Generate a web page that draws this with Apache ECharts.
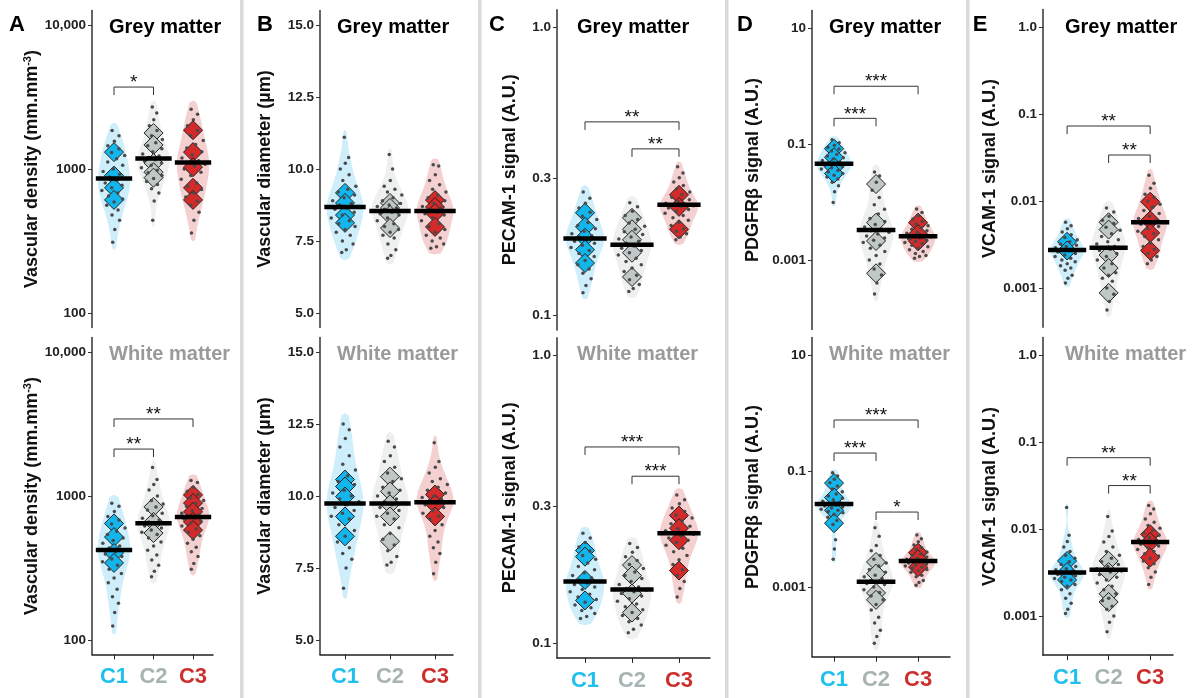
<!DOCTYPE html>
<html>
<head>
<meta charset="utf-8">
<title>Vascular markers by cluster</title>
<script src="https://cdn.jsdelivr.net/npm/echarts@6/dist/echarts.min.js"></script>
<style>
  html, body { margin: 0; padding: 0; background: #fff; }
  #main { width: 1193px; height: 698px; }
</style>
</head>
<body>
<div id="main"></div>
<script>
var clusters = ['C1', 'C2', 'C3'];
var labelColors = ['#1fc0ee', '#a8b3b3', '#cc2e2e'];
var diamondColors = ['#12b5ec', '#bfc8c6', '#d42a2a'];
var violinColors = ['#cdeefa', '#edf0ef', '#f5d0d0'];

// tick labels
var densityTicks = [100, 1000, 10000];
var densityTickLabels = ['100', '1000', '10,000'];
var diameterTicks = [5, 7.5, 10, 12.5, 15];
var diameterTickLabels = ['5.0', '7.5', '10.0', '12.5', '15.0'];
var pecamTicks = [0.1, 0.3, 1];
var pecamTickLabels = ['0.1', '0.3', '1.0'];
var pdgfrbTicks = [0.001, 0.1, 10];
var pdgfrbTickLabels = ['0.001', '0.1', '10'];
var vcamTicks = [0.001, 0.01, 0.1, 1];
var vcamTickLabels = ['0.001', '0.01', '0.1', '1.0'];

// A - vascular density
var densityGreyDots = [
  [1850, 1700, 1560, 1450, 1380, 1300, 1240, 1180, 1120, 1060, 1000, 960, 920, 880, 860, 840, 800, 770, 740, 710, 680, 650, 620, 590, 560, 520, 480, 440, 380, 310],
  [2700, 2450, 2200, 2000, 1850, 1700, 1600, 1520, 1450, 1380, 1320, 1270, 1230, 1200, 1180, 1160, 1130, 1100, 1060, 1020, 980, 940, 900, 860, 820, 780, 730, 680, 600, 440],
  [2600, 2400, 2200, 2000, 1850, 1700, 1580, 1480, 1400, 1320, 1250, 1190, 1140, 1110, 1080, 1050, 1000, 950, 900, 850, 800, 760, 720, 680, 640, 600, 560, 500, 440, 360]
];
var densityGreyDiamonds = [[1310, 900, 740, 610], [1780, 1470, 1100, 950, 870], [1860, 1310, 1030, 740, 610]];
var densityGreyMedians = [859, 1183, 1110];
var densityGreySig = [[1, 2, 3707, '*']];

var densityWhiteDots = [
  [890, 850, 780, 720, 680, 640, 600, 570, 540, 510, 490, 470, 450, 435, 420, 410, 395, 380, 365, 350, 330, 310, 290, 270, 250, 225, 200, 180, 155, 125],
  [1580, 1300, 1200, 1100, 1000, 930, 880, 840, 800, 760, 730, 700, 680, 660, 650, 640, 620, 600, 580, 560, 540, 510, 480, 450, 420, 390, 360, 330, 300, 275],
  [1280, 1240, 1150, 1080, 1020, 970, 930, 890, 850, 820, 790, 760, 740, 725, 715, 705, 690, 670, 650, 620, 590, 560, 530, 500, 470, 440, 410, 380, 340, 310]
];
var densityWhiteDiamonds = [[645, 519, 402, 343], [840, 661, 553], [1017, 893, 776, 661, 580]];
var densityWhiteMedians = [422, 646, 715];
var densityWhiteSig = [[1, 3, 3428, '**'], [1, 2, 2118, '**']];

// B - vascular diameter
var diameterGreyDots = [
  [11.1, 10.4, 10.2, 10.0, 9.8, 9.6, 9.4, 9.3, 9.2, 9.1, 9.0, 8.9, 8.8, 8.75, 8.7, 8.65, 8.6, 8.5, 8.4, 8.3, 8.2, 8.1, 8.0, 7.9, 7.8, 7.7, 7.5, 7.4, 7.2, 7.1],
  [10.5, 10.0, 9.6, 9.4, 9.3, 9.2, 9.1, 9.0, 8.9, 8.8, 8.75, 8.7, 8.65, 8.6, 8.55, 8.5, 8.45, 8.4, 8.3, 8.2, 8.1, 8.0, 7.9, 7.8, 7.7, 7.6, 7.4, 7.2, 7.0, 6.9],
  [10.15, 10.1, 9.8, 9.6, 9.45, 9.3, 9.2, 9.1, 9.0, 8.9, 8.8, 8.7, 8.65, 8.6, 8.55, 8.5, 8.45, 8.4, 8.3, 8.2, 8.1, 8.0, 7.9, 7.8, 7.7, 7.6, 7.5, 7.4, 7.3, 7.25]
];
var diameterGreyDiamonds = [[9.17, 8.82, 8.4, 8.13], [8.82, 8.65, 8.4, 7.95], [8.92, 8.68, 8.47, 7.99]];
var diameterGreyMedians = [8.68, 8.54, 8.54];
var diameterGreySig = [];

var diameterWhiteDots = [
  [12.5, 12.3, 12.0, 11.7, 11.4, 11.1, 10.9, 10.7, 10.5, 10.4, 10.2, 10.1, 10.0, 9.9, 9.8, 9.7, 9.6, 9.5, 9.4, 9.3, 9.2, 9.0, 8.8, 8.6, 8.4, 8.2, 8.0, 7.8, 7.5, 6.8],
  [11.9, 11.7, 11.4, 11.2, 11.0, 10.8, 10.6, 10.5, 10.3, 10.2, 10.1, 10.0, 9.9, 9.8, 9.75, 9.7, 9.6, 9.5, 9.4, 9.3, 9.2, 9.0, 8.9, 8.7, 8.5, 8.3, 8.1, 7.9, 7.7, 7.6],
  [11.85, 11.2, 11.0, 10.8, 10.6, 10.5, 10.4, 10.3, 10.2, 10.1, 10.0, 9.95, 9.9, 9.85, 9.8, 9.75, 9.7, 9.6, 9.5, 9.4, 9.3, 9.2, 9.0, 8.8, 8.6, 8.4, 8.2, 8.0, 7.7, 7.3]
];
var diameterWhiteDiamonds = [[10.57, 10.33, 9.98, 9.29, 8.6], [10.67, 10.16, 9.71, 9.29, 8.43], [10.05, 9.71, 9.29]];
var diameterWhiteMedians = [9.74, 9.74, 9.78];
var diameterWhiteSig = [];

// C - PECAM-1
var pecamGreyDots = [
  [0.268, 0.255, 0.245, 0.236, 0.228, 0.221, 0.215, 0.21, 0.205, 0.2, 0.196, 0.192, 0.189, 0.187, 0.185, 0.183, 0.181, 0.178, 0.175, 0.172, 0.168, 0.164, 0.16, 0.155, 0.15, 0.145, 0.14, 0.134, 0.127, 0.12],
  [0.246, 0.238, 0.23, 0.222, 0.215, 0.209, 0.204, 0.199, 0.195, 0.191, 0.187, 0.184, 0.181, 0.178, 0.176, 0.174, 0.171, 0.168, 0.165, 0.162, 0.158, 0.154, 0.15, 0.146, 0.142, 0.138, 0.133, 0.128, 0.124, 0.121],
  [0.328, 0.312, 0.3, 0.29, 0.282, 0.275, 0.268, 0.262, 0.257, 0.252, 0.248, 0.245, 0.243, 0.241, 0.24, 0.238, 0.236, 0.233, 0.23, 0.226, 0.222, 0.218, 0.214, 0.21, 0.205, 0.2, 0.196, 0.192, 0.187, 0.183]
];
var pecamGreyDiamonds = [[0.227, 0.203, 0.186, 0.169, 0.152], [0.218, 0.199, 0.183, 0.165, 0.136], [0.262, 0.238, 0.199]];
var pecamGreyMedians = [0.185, 0.176, 0.242];
var pecamGreySig = [[1, 3, 0.469, '**'], [2, 3, 0.378, '**']];

var pecamWhiteDots = [
  [0.241, 0.232, 0.224, 0.216, 0.209, 0.202, 0.196, 0.19, 0.185, 0.18, 0.176, 0.172, 0.169, 0.166, 0.164, 0.162, 0.16, 0.157, 0.154, 0.151, 0.148, 0.145, 0.142, 0.139, 0.136, 0.133, 0.13, 0.127, 0.124, 0.122],
  [0.222, 0.215, 0.207, 0.2, 0.194, 0.188, 0.182, 0.177, 0.172, 0.168, 0.164, 0.16, 0.157, 0.155, 0.153, 0.151, 0.149, 0.146, 0.143, 0.14, 0.137, 0.134, 0.131, 0.128, 0.125, 0.122, 0.119, 0.116, 0.112, 0.109],
  [0.327, 0.315, 0.305, 0.295, 0.287, 0.279, 0.272, 0.266, 0.26, 0.255, 0.25, 0.246, 0.243, 0.241, 0.239, 0.236, 0.232, 0.228, 0.224, 0.219, 0.214, 0.208, 0.202, 0.195, 0.188, 0.18, 0.172, 0.164, 0.155, 0.145]
];
var pecamWhiteDiamonds = [[0.21, 0.2, 0.166, 0.141], [0.187, 0.172, 0.149, 0.128], [0.278, 0.251, 0.228, 0.179]];
var pecamWhiteMedians = [0.164, 0.154, 0.241];
var pecamWhiteSig = [[1, 3, 0.48, '***'], [2, 3, 0.38, '***']];

// D - PDGFRb
var pdgfrbGreyDots = [
  [0.118, 0.105, 0.095, 0.088, 0.082, 0.076, 0.071, 0.066, 0.062, 0.058, 0.055, 0.052, 0.049, 0.047, 0.046, 0.045, 0.043, 0.041, 0.039, 0.037, 0.035, 0.033, 0.031, 0.029, 0.027, 0.025, 0.022, 0.019, 0.015, 0.0098],
  [0.033, 0.028, 0.022, 0.016, 0.012, 0.009, 0.0075, 0.0062, 0.0052, 0.0046, 0.0041, 0.0037, 0.0034, 0.0032, 0.003, 0.0028, 0.0026, 0.0024, 0.0022, 0.002, 0.0018, 0.0016, 0.0014, 0.0012, 0.001, 0.00085, 0.0007, 0.00055, 0.0004, 0.00026],
  [0.0076, 0.0066, 0.0058, 0.0051, 0.0046, 0.0042, 0.0039, 0.0036, 0.0034, 0.0032, 0.003, 0.0029, 0.0027, 0.0026, 0.0025, 0.0024, 0.0023, 0.0022, 0.0021, 0.002, 0.0019, 0.0018, 0.0017, 0.0016, 0.0015, 0.0014, 0.0013, 0.0012, 0.00115, 0.00107]
];
var pdgfrbGreyDiamonds = [[0.083, 0.059, 0.04, 0.031], [0.0204, 0.0044, 0.00213, 0.00059], [0.0044, 0.0028, 0.0021]];
var pdgfrbGreyMedians = [0.0457, 0.0033, 0.00257];
var pdgfrbGreySig = [[1, 3, 0.99, '***'], [1, 2, 0.277, '***']];

var pdgfrbWhiteDots = [
  [0.093, 0.082, 0.072, 0.063, 0.055, 0.049, 0.044, 0.04, 0.037, 0.034, 0.032, 0.03, 0.029, 0.028, 0.027, 0.026, 0.025, 0.024, 0.023, 0.022, 0.021, 0.02, 0.019, 0.018, 0.016, 0.014, 0.012, 0.0065, 0.0045, 0.003],
  [0.0105, 0.0075, 0.0052, 0.0042, 0.0035, 0.003, 0.0026, 0.0023, 0.002, 0.0018, 0.0016, 0.0015, 0.0014, 0.0013, 0.00125, 0.0012, 0.00115, 0.0011, 0.001, 0.0009, 0.0008, 0.0007, 0.0006, 0.0005, 0.0004, 0.0003, 0.00024, 0.00018, 0.00014, 0.000107],
  [0.0079, 0.0068, 0.006, 0.0053, 0.0048, 0.0044, 0.004, 0.0037, 0.0035, 0.0033, 0.0031, 0.003, 0.0029, 0.0028, 0.0028, 0.0027, 0.0026, 0.0025, 0.0024, 0.0023, 0.0022, 0.0021, 0.002, 0.0019, 0.0018, 0.0016, 0.0015, 0.0013, 0.0012, 0.00107]
];
var pdgfrbWhiteDiamonds = [[0.062, 0.035, 0.021, 0.0126], [0.0027, 0.0017, 0.00079, 0.0006], [0.0039, 0.003, 0.0022]];
var pdgfrbWhiteMedians = [0.027, 0.00123, 0.0028];
var pdgfrbWhiteSig = [[1, 3, 0.757, '***'], [1, 2, 0.204, '***'], [2, 3, 0.0196, '*']];

// E - VCAM-1
var vcamGreyDots = [
  [0.0057, 0.0052, 0.0048, 0.0044, 0.0041, 0.0038, 0.0036, 0.0034, 0.0032, 0.0031, 0.003, 0.0029, 0.0028, 0.0028, 0.0027, 0.0027, 0.0026, 0.0025, 0.0024, 0.0023, 0.0022, 0.0021, 0.002, 0.0019, 0.0018, 0.0017, 0.0016, 0.0014, 0.0013, 0.00114],
  [0.0083, 0.0075, 0.0067, 0.006, 0.0055, 0.005, 0.0046, 0.0042, 0.0039, 0.0036, 0.0034, 0.0032, 0.003, 0.0029, 0.0029, 0.0028, 0.0027, 0.0025, 0.0023, 0.0021, 0.0019, 0.0017, 0.0015, 0.0014, 0.0013, 0.0012, 0.001, 0.00085, 0.0007, 0.00056],
  [0.0198, 0.016, 0.014, 0.012, 0.011, 0.01, 0.0092, 0.0085, 0.0078, 0.0072, 0.0067, 0.0063, 0.006, 0.0058, 0.0057, 0.0056, 0.0054, 0.0051, 0.0048, 0.0045, 0.0042, 0.0039, 0.0036, 0.0033, 0.003, 0.0028, 0.0025, 0.0023, 0.0021, 0.0019]
];
var vcamGreyDiamonds = [[0.0034, 0.0027], [0.0057, 0.0047, 0.0024, 0.0017, 0.00088], [0.0098, 0.006, 0.0043, 0.0027]];
var vcamGreyMedians = [0.00273, 0.0029, 0.0057];
var vcamGreySig = [[1, 3, 0.0728, '**'], [2, 3, 0.0338, '**']];

var vcamWhiteDots = [
  [0.0177, 0.0085, 0.0072, 0.0062, 0.0055, 0.005, 0.0046, 0.0042, 0.0039, 0.0037, 0.0035, 0.0034, 0.0033, 0.0032, 0.0031, 0.0031, 0.003, 0.0029, 0.0028, 0.0027, 0.0026, 0.0025, 0.0023, 0.0022, 0.002, 0.0018, 0.0016, 0.0014, 0.0012, 0.00107],
  [0.0139, 0.0095, 0.0082, 0.0071, 0.0062, 0.0055, 0.005, 0.0046, 0.0042, 0.0039, 0.0037, 0.0035, 0.0034, 0.0034, 0.0033, 0.0032, 0.003, 0.0028, 0.0026, 0.0024, 0.0022, 0.002, 0.0018, 0.0016, 0.0015, 0.0013, 0.0012, 0.001, 0.00085, 0.00066],
  [0.0186, 0.017, 0.015, 0.013, 0.012, 0.011, 0.0102, 0.0096, 0.009, 0.0085, 0.008, 0.0076, 0.0073, 0.0071, 0.007, 0.0069, 0.0067, 0.0064, 0.0061, 0.0058, 0.0055, 0.0052, 0.0049, 0.0046, 0.0043, 0.004, 0.0036, 0.0032, 0.0028, 0.0023]
];
var vcamWhiteDiamonds = [[0.0043, 0.0032, 0.0026], [0.0043, 0.0032, 0.0018, 0.00145], [0.0087, 0.0071, 0.0047]];
var vcamWhiteMedians = [0.00317, 0.0034, 0.0071];
var vcamWhiteSig = [[1, 3, 0.066, '**'], [2, 3, 0.0316, '**']];

var FONT = '"Liberation Sans", Arial, sans-serif';
var rowTitles = ['Grey matter', 'White matter'];
var rowTitleColors = ['#000', '#9a9a9a'];
var rowTitleY = [27, 354];

// one column per measure; pixel layout lives here, values come from the arrays above
var columns = [
  { letter: 'A', letterX: 17, titleX: 109, log: true, ticks: densityTicks, tickLabels: densityTickLabels,
    name: 'Vascular density (mm.mm{sup|-3})', nameGap: 49,
    left: 92, width: 121, xmin: 0.443, xmax: 3.506, ymin: 1.9, ymax: 4.1, tops: [10.6, 337.6], height: 316.8,
    rows: [
      { dots: densityGreyDots, diamonds: densityGreyDiamonds, medians: densityGreyMedians, sig: densityGreySig },
      { dots: densityWhiteDots, diamonds: densityWhiteDiamonds, medians: densityWhiteMedians, sig: densityWhiteSig }
    ] },
  { letter: 'B', letterX: 265, titleX: 337, log: false, ticks: diameterTicks, tickLabels: diameterTickLabels,
    name: 'Vascular diameter (µm)', nameGap: 46,
    left: 320, width: 133, xmin: 0.444, xmax: 3.4, ymin: 4.5, ymax: 15.5, tops: [10.6, 337.6], height: 316.8,
    rows: [
      { dots: diameterGreyDots, diamonds: diameterGreyDiamonds, medians: diameterGreyMedians, sig: diameterGreySig },
      { dots: diameterWhiteDots, diamonds: diameterWhiteDiamonds, medians: diameterWhiteMedians, sig: diameterWhiteSig }
    ] },
  { letter: 'C', letterX: 497, titleX: 577, log: true, ticks: pecamTicks, tickLabels: pecamTickLabels,
    name: 'PECAM-1 signal (A.U.)', nameGap: 38,
    left: 557, width: 153, xmin: 0.404, xmax: 3.66, ymin: -1.05, ymax: 0.06, tops: [9.7, 337.7], height: 320.2,
    rows: [
      { dots: pecamGreyDots, diamonds: pecamGreyDiamonds, medians: pecamGreyMedians, sig: pecamGreySig },
      { dots: pecamWhiteDots, diamonds: pecamWhiteDiamonds, medians: pecamWhiteMedians, sig: pecamWhiteSig }
    ] },
  { letter: 'D', letterX: 745, titleX: 829, log: true, ticks: pdgfrbTicks, tickLabels: pdgfrbTickLabels,
    name: 'PDGFRβ signal (A.U.)', nameGap: 50,
    left: 812, width: 138, xmin: 0.476, xmax: 3.76, ymin: -4.2, ymax: 1.3, tops: [10.6, 337.6], height: 319,
    rows: [
      { dots: pdgfrbGreyDots, diamonds: pdgfrbGreyDiamonds, medians: pdgfrbGreyMedians, sig: pdgfrbGreySig },
      { dots: pdgfrbWhiteDots, diamonds: pdgfrbWhiteDiamonds, medians: pdgfrbWhiteMedians, sig: pdgfrbWhiteSig }
    ] },
  { letter: 'E', letterX: 980, titleX: 1065, log: true, ticks: vcamTicks, tickLabels: vcamTickLabels,
    name: 'VCAM-1 signal (A.U.)', nameGap: 44,
    left: 1043, width: 130, xmin: 0.42, xmax: 3.55, ymin: -3.45, ymax: 0.2, tops: [9.6, 337.6], height: 317.6,
    rows: [
      { dots: vcamGreyDots, diamonds: vcamGreyDiamonds, medians: vcamGreyMedians, sig: vcamGreySig },
      { dots: vcamWhiteDots, diamonds: vcamWhiteDiamonds, medians: vcamWhiteMedians, sig: vcamWhiteSig }
    ] }
];

var VIOLIN_HALF = 0.41;

// golden-ratio spread for jitter, -1..1
function spread(k) { return ((k * 0.6180339887 + 0.29) % 1) * 2 - 1; }

function makeKde(vals) {
  var n = vals.length;
  var mean = vals.reduce(function (a, b) { return a + b; }, 0) / n;
  var sd = Math.sqrt(vals.reduce(function (a, b) { return a + (b - mean) * (b - mean); }, 0) / (n - 1));
  var s = vals.slice().sort(function (a, b) { return a - b; });
  var iqr = s[Math.floor(n * 0.75)] - s[Math.floor(n * 0.25)];
  var h = 0.9 * Math.min(sd, iqr / 1.34) * Math.pow(n, -0.2);
  var f = function (y) {
    var t = 0;
    for (var i = 0; i < n; i++) { var z = (y - vals[i]) / h; t += Math.exp(-0.5 * z * z); }
    return t;
  };
  var lo = s[0] - 0.6 * h, hi = s[n - 1] + 0.6 * h;
  var pts = [], fmax = 0;
  for (var k = 0; k <= 70; k++) {
    var y = lo + (hi - lo) * k / 70;
    var v = f(y);
    fmax = Math.max(fmax, v);
    pts.push([y, v]);
  }
  pts.forEach(function (p) { p[1] = VIOLIN_HALF * p[1] / fmax; });
  pts[0][1] = 0;
  pts[pts.length - 1][1] = 0;
  return { shape: pts, width: function (y) { return VIOLIN_HALF * f(y) / fmax; } };
}

var grids = [], xAxes = [], yAxes = [], series = [], graphics = [];

columns.forEach(function (col, ci) {
  var tf = col.log ? function (v) { return Math.log10(v); } : function (v) { return v; };
  var tickVals = col.ticks.map(tf);
  col.rows.forEach(function (row, ri) {
    var g = grids.length;
    grids.push({ left: col.left, top: col.tops[ri], width: col.width, height: col.height });

    var bottomRow = ri === 1;
    xAxes.push({
      type: 'value', gridIndex: g, min: col.xmin, max: col.xmax, show: bottomRow,
      splitLine: { show: false },
      axisLine: { show: true, onZero: false, lineStyle: { color: '#222', width: 1.5 } },
      axisTick: { show: true, customValues: [1, 2, 3], length: 5, lineStyle: { color: '#222', width: 1 } },
      axisLabel: {
        customValues: [1, 2, 3], margin: 12,
        formatter: function (v) { var i = Math.round(v) - 1; return '{c' + i + '|' + clusters[i] + '}'; },
        rich: {
          c0: { color: labelColors[0], fontSize: 22, fontWeight: 'bold', fontFamily: FONT },
          c1: { color: labelColors[1], fontSize: 22, fontWeight: 'bold', fontFamily: FONT },
          c2: { color: labelColors[2], fontSize: 22, fontWeight: 'bold', fontFamily: FONT }
        }
      }
    });

    yAxes.push({
      type: 'value', gridIndex: g, min: col.ymin, max: col.ymax,
      splitLine: { show: false },
      axisLine: { show: true, onZero: false, lineStyle: { color: '#333', width: 1.5 } },
      axisTick: { show: true, customValues: tickVals, length: 4, lineStyle: { color: '#333', width: 1 } },
      axisLabel: {
        customValues: tickVals, margin: 6, fontSize: 13.5, fontWeight: 'bold', color: '#222', fontFamily: FONT,
        formatter: function (v) {
          for (var t = 0; t < tickVals.length; t++) if (Math.abs(tickVals[t] - v) < 1e-6) return col.tickLabels[t];
          return '';
        }
      },
      name: col.name, nameLocation: 'middle', nameGap: col.nameGap,
      nameTextStyle: {
        fontSize: 18, fontWeight: 'bold', color: '#111', fontFamily: FONT,
        rich: { sup: { fontSize: 11, fontWeight: 'bold', color: '#111', fontFamily: FONT, verticalAlign: 'top', padding: [0, 0, 8, 0] } }
      }
    });

    var kdes = row.dots.map(function (vals) { return makeKde(vals.map(tf)); });

    // violins
    series.push({
      type: 'custom', xAxisIndex: g, yAxisIndex: g, z: 1, silent: true,
      data: [[1, tf(row.medians[0])], [2, tf(row.medians[1])], [3, tf(row.medians[2])]],
      renderItem: function (params, api) {
        var i = params.dataIndex, c = i + 1, s = kdes[i].shape, pts = [];
        for (var k = 0; k < s.length; k++) pts.push(api.coord([c + s[k][1], s[k][0]]));
        for (var k2 = s.length - 1; k2 >= 0; k2--) pts.push(api.coord([c - s[k2][1], s[k2][0]]));
        return { type: 'polygon', shape: { points: pts }, style: { fill: violinColors[i] } };
      }
    });

    // diamonds
    var dia = [];
    row.diamonds.forEach(function (vals, i) {
      vals.forEach(function (v) {
        dia.push({ value: [i + 1, tf(v)], itemStyle: { color: diamondColors[i] } });
      });
    });
    series.push({
      type: 'scatter', xAxisIndex: g, yAxisIndex: g, z: 2, silent: true,
      symbol: 'diamond', symbolSize: [19, 19],
      itemStyle: { borderColor: '#222', borderWidth: 1, opacity: 1 },
      data: dia
    });

    // individual vessels
    var pts = [];
    row.dots.forEach(function (vals, i) {
      vals.forEach(function (v, k) {
        var y = tf(v);
        pts.push([i + 1 + spread(k) * 0.85 * kdes[i].width(y), y]);
      });
    });
    series.push({
      type: 'scatter', xAxisIndex: g, yAxisIndex: g, z: 3, silent: true,
      symbol: 'circle', symbolSize: 3.5,
      itemStyle: { color: '#4a4a4a', opacity: 1 },
      data: pts
    });

    // medians
    series.push({
      type: 'custom', xAxisIndex: g, yAxisIndex: g, z: 4, silent: true,
      data: row.medians.map(function (m, i) { return [i + 1, tf(m)]; }),
      renderItem: function (params, api) {
        var i = params.dataIndex, y = tf(row.medians[i]);
        var a = api.coord([i + 1 - 0.46, y]), b = api.coord([i + 1 + 0.46, y]);
        return { type: 'line', shape: { x1: a[0], y1: a[1], x2: b[0], y2: b[1] }, style: { stroke: '#000', lineWidth: 4.5 } };
      }
    });

    // significance brackets
    if (row.sig.length) {
      series.push({
        type: 'custom', xAxisIndex: g, yAxisIndex: g, z: 5, silent: true,
        data: row.sig.map(function (s) { return [s[0], tf(s[2])]; }),
        renderItem: function (params, api) {
          var s = row.sig[params.dataIndex], y = tf(s[2]);
          var a = api.coord([s[0], y]), b = api.coord([s[1], y]);
          return {
            type: 'group', children: [
              { type: 'polyline', shape: { points: [[a[0], a[1] + 8], a, b, [b[0], b[1] + 8]] },
                style: { stroke: '#333', lineWidth: 1, fill: null } },
              { type: 'text', x: (a[0] + b[0]) / 2, y: a[1] - 4,
                style: { text: s[3], align: 'center', verticalAlign: 'middle', fontSize: 19, fontFamily: FONT, fill: '#111' } }
            ]
          };
        }
      });
    }

    graphics.push({
      type: 'text', x: col.titleX, y: rowTitleY[ri],
      style: { text: rowTitles[ri], fontSize: 20, fontWeight: 'bold', fontFamily: FONT, fill: rowTitleColors[ri], align: 'left', verticalAlign: 'middle' }
    });
  });

  graphics.push({
    type: 'text', x: col.letterX, y: 25,
    style: { text: col.letter, fontSize: 22, fontWeight: 'bold', fontFamily: FONT, fill: '#000', align: 'center', verticalAlign: 'middle' }
  });
});

// panel separators
[240, 478, 725, 966].forEach(function (x) {
  graphics.push({ type: 'rect', shape: { x: x, y: 0, width: 3.5, height: 698 }, style: { fill: '#dadada' } });
});

var myChart = echarts.init(document.getElementById('main'));
myChart.setOption({
  animation: false,
  backgroundColor: '#fff',
  textStyle: { fontFamily: FONT },
  grid: grids,
  xAxis: xAxes,
  yAxis: yAxes,
  series: series,
  graphic: graphics
});
</script>
</body>
</html>
